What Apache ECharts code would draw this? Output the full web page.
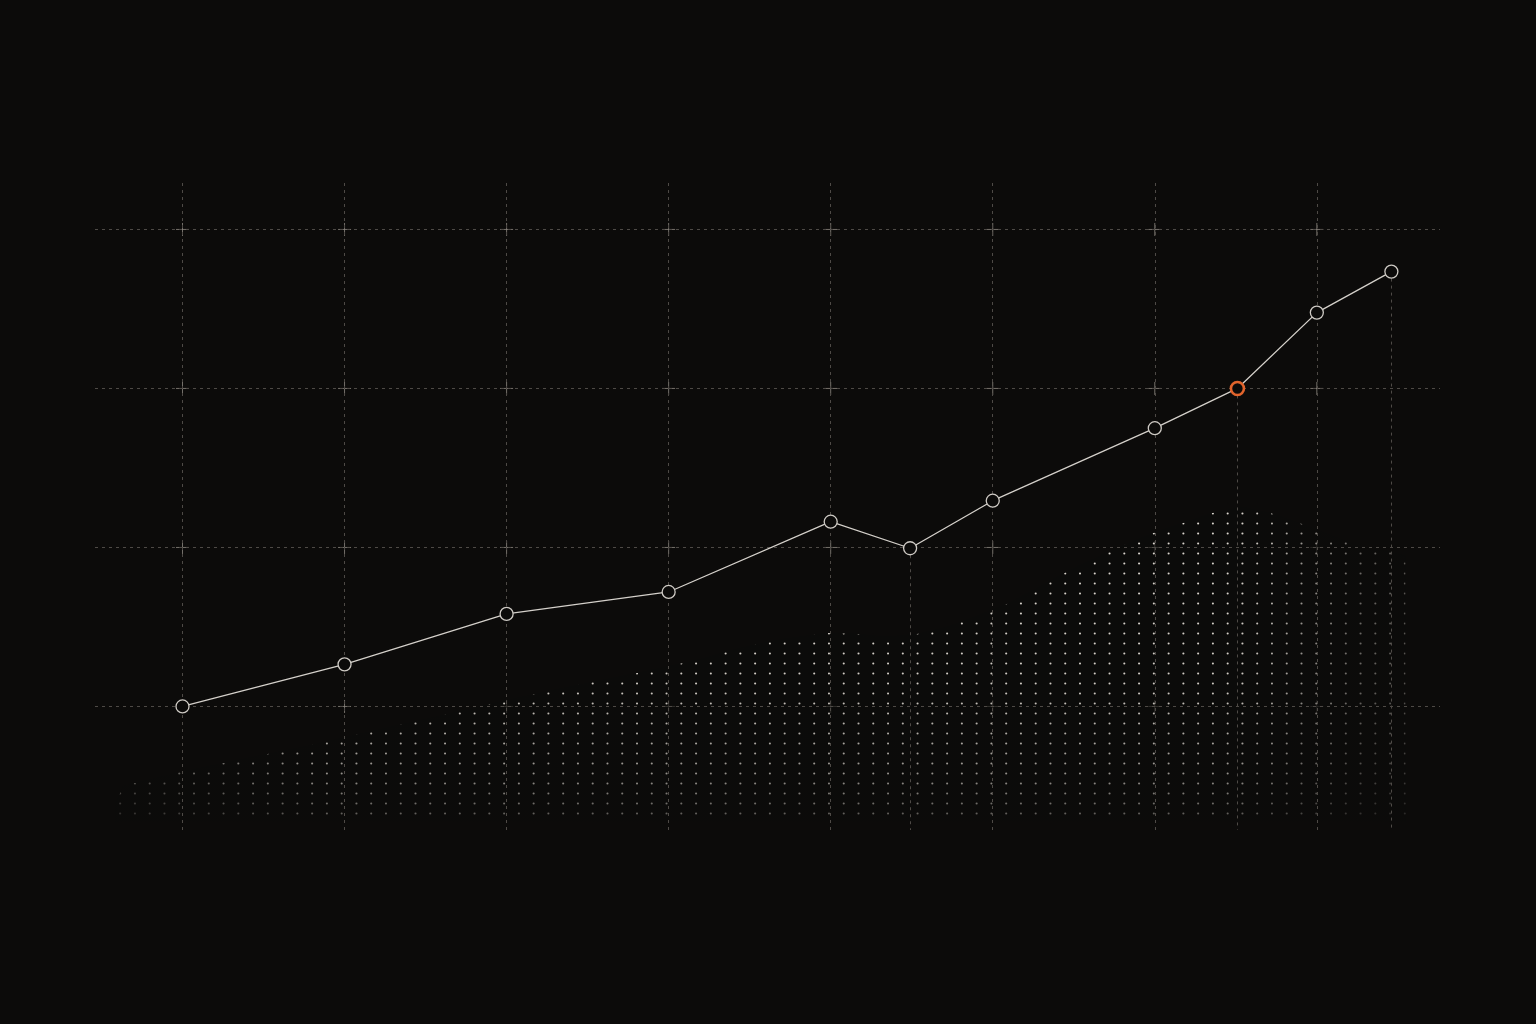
<!DOCTYPE html>
<html>
<head>
<meta charset="utf-8">
<style>
html,body{margin:0;padding:0;background:#0c0b0a;}
#chart{width:1536px;height:1024px;}
</style>
<script src="https://cdn.jsdelivr.net/npm/echarts@6/dist/echarts.min.js"></script>
</head>
<body>
<div id="chart"></div>
<script>
// Grid ticks
const xTicks = [0, 1, 2, 3, 4, 5, 6, 7];
const yTicks = [0, 1, 2, 3];

// Main line series
const pointX = [0, 1, 2, 3, 4, 4.49, 5, 6, 6.51, 7, 7.46];
const pointY = [0, 0.265, 0.582, 0.72, 1.162, 0.995, 1.294, 1.75, 2.0, 2.477, 2.735];
const highlightIndex = 8;

// Dotted background envelope
const envX = [-0.415, -0.366, 0, 0.436, 0.80, 1.257, 1.615, 1.979, 2.35, 2.806, 3.176, 3.441, 3.707, 3.984, 4.163, 4.348, 4.533, 4.718, 4.904, 5.089, 5.274, 5.453, 5.724, 5.99, 6.175, 6.354, 6.539, 6.712, 6.891, 7.082, 7.267, 7.452, 7.545];
const envY = [-0.62, -0.50, -0.41, -0.318, -0.242, -0.135, -0.054, 0.035, 0.116, 0.211, 0.292, 0.368, 0.425, 0.462, 0.456, 0.437, 0.456, 0.50, 0.569, 0.645, 0.745, 0.846, 0.978, 1.091, 1.154, 1.217, 1.255, 1.217, 1.154, 1.079, 1.003, 0.972, 0.947];
const envBase = -0.726;

const X_MIN = -0.54, X_MAX = 7.76, Y_MIN = -0.777, Y_MAX = 3.311;
const BG = '#0c0b0a';
const GRID_COLOR = '#4e4a46';

function makeDots() {
  const W = 443, H = 10, N = 30;
  const c = document.createElement('canvas');
  c.width = W; c.height = H;
  const ctx = c.getContext('2d');
  ctx.fillStyle = 'rgba(12,11,10,0.6)';
  ctx.fillRect(0, 0, W, H);
  ctx.fillStyle = 'rgba(232,227,219,0.95)';
  for (let i = 0; i < N; i++) {
    ctx.beginPath();
    ctx.arc(2.04 + i * W / N, 3.5, 1.05, 0, Math.PI * 2);
    ctx.fill();
  }
  return c;
}

const lineData = pointX.map((x, i) => {
  const d = { value: [x, pointY[i]] };
  if (i === highlightIndex) {
    d.itemStyle = { borderColor: '#e2642c', borderWidth: 2.6, color: BG };
  }
  return d;
});
const envData = envX.map((x, i) => [x, envY[i]]);

const gridLines = [];
yTicks.forEach(v => gridLines.push({ yAxis: v }));
xTicks.forEach(v => gridLines.push({ xAxis: v }));
pointX.forEach((x, i) => {
  if (!xTicks.includes(x)) gridLines.push([{ coord: [x, pointY[i]] }, { coord: [x, Y_MIN] }]);
});

const crosses = [];
xTicks.forEach(x => yTicks.forEach(y => crosses.push([x, y])));

const chart = echarts.init(document.getElementById('chart'));
chart.setOption({
  backgroundColor: BG,
  animation: false,
  grid: { left: 95, right: 96, top: 180, bottom: 194 },
  xAxis: { type: 'value', min: X_MIN, max: X_MAX, show: false, splitLine: { show: false } },
  yAxis: { type: 'value', min: Y_MIN, max: Y_MAX, show: false, splitLine: { show: false } },
  series: [
    {
      type: 'line', name: 'grid', data: [], z: 1, silent: true,
      markLine: {
        silent: true, symbol: ['none', 'none'], label: { show: false },
        lineStyle: { color: GRID_COLOR, width: 1, type: [3, 4] },
        emphasis: { disabled: true },
        data: gridLines
      }
    },
    {
      type: 'scatter', name: 'crosses', data: crosses, z: 1, silent: true,
      symbol: 'path://M0,6.5L13,6.5M6.5,0L6.5,13', symbolSize: 13,
      itemStyle: { color: 'transparent', borderColor: '#8e8982', borderWidth: 1 }
    },
    {
      type: 'line', name: 'dots', data: envData, z: 2, silent: true,
      showSymbol: false, symbol: 'none',
      lineStyle: { width: 0, opacity: 0 },
      areaStyle: { origin: envBase, color: { image: makeDots(), repeat: 'repeat' }, opacity: 1 }
    },
    {
      type: 'line', name: 'fadeV', data: envData, z: 3, silent: true,
      showSymbol: false, symbol: 'none',
      lineStyle: { width: 0, opacity: 0 },
      areaStyle: {
        origin: envBase,
        color: new echarts.graphic.LinearGradient(0, 0, 0, 1, [
          { offset: 0, color: 'rgba(12,11,10,0)' },
          { offset: 0.55, color: 'rgba(12,11,10,0.08)' },
          { offset: 0.85, color: 'rgba(12,11,10,0.5)' },
          { offset: 1, color: 'rgba(12,11,10,0.92)' }
        ])
      }
    },
    {
      type: 'line', name: 'fadeH', data: envData, z: 3, silent: true,
      showSymbol: false, symbol: 'none',
      lineStyle: { width: 0, opacity: 0 },
      areaStyle: {
        origin: envBase,
        color: new echarts.graphic.LinearGradient(0, 0, 1, 0, [
          { offset: 0, color: 'rgba(12,11,10,0.8)' },
          { offset: 0.06, color: 'rgba(12,11,10,0.5)' },
          { offset: 0.16, color: 'rgba(12,11,10,0)' },
          { offset: 0.87, color: 'rgba(12,11,10,0)' },
          { offset: 0.92, color: 'rgba(12,11,10,0.45)' },
          { offset: 0.96, color: 'rgba(12,11,10,0.75)' },
          { offset: 1, color: 'rgba(12,11,10,0.9)' }
        ])
      }
    },
    {
      type: 'line', name: 'value', data: lineData, z: 5,
      symbol: 'circle', symbolSize: 13, showSymbol: true,
      lineStyle: { color: '#d4d0ca', width: 1.3 },
      itemStyle: { color: BG, borderColor: '#cfcbc5', borderWidth: 1.3 },
      emphasis: { disabled: true }
    }
  ]
});
</script>
</body>
</html>
